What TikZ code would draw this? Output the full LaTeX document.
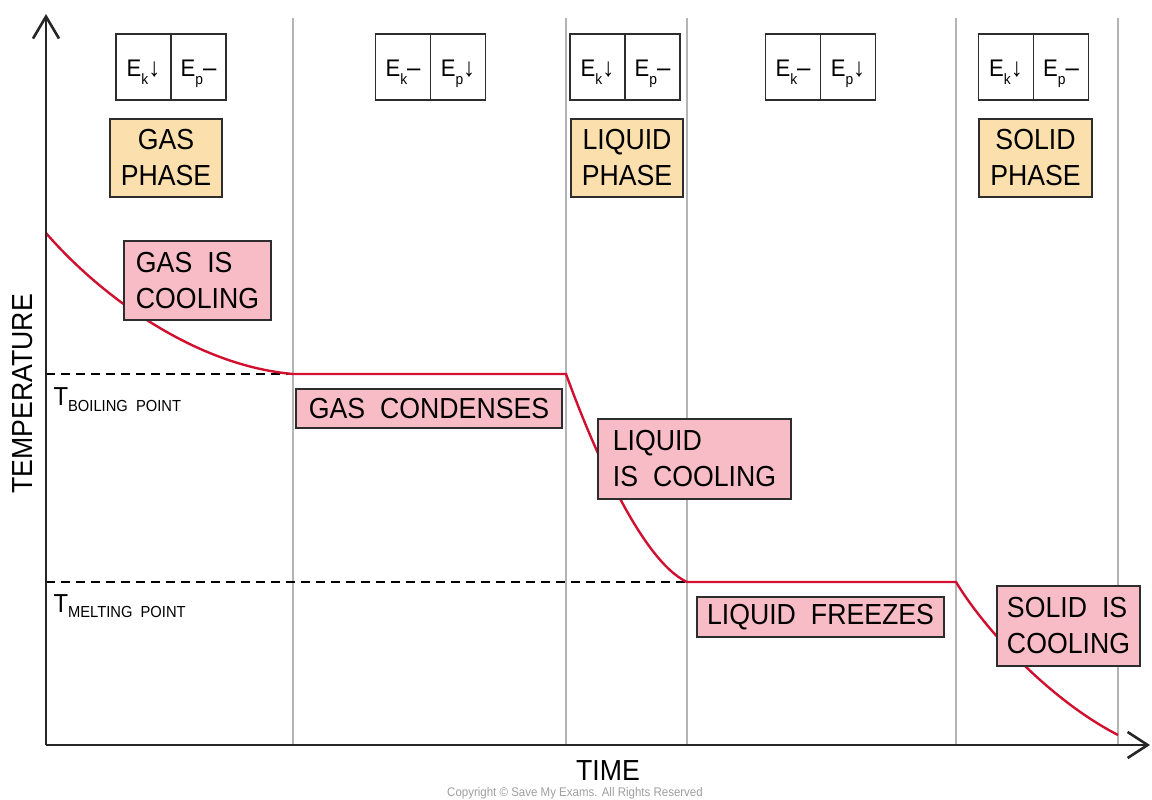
\documentclass[tikz,border=0pt]{standalone}
\usepackage{fontspec}
\setmainfont[FakeStretch=0.92]{Liberation Sans}
\usetikzlibrary{arrows.meta}
\definecolor{pinkfill}{RGB}{248,188,198}
\definecolor{orangefill}{RGB}{251,223,172}
\definecolor{curvered}{RGB}{208,16,46}
\definecolor{gridgray}{RGB}{180,180,180}
\definecolor{boxedge}{RGB}{45,45,45}
\newcommand\gap{\hspace{15pt}}
\newcommand\esub[2]{E\smash{\raisebox{-8pt}{\fontsize{15}{15}\selectfont #1}}{\fontsize{26}{26}\selectfont #2}}
\begin{document}
\begin{tikzpicture}[x=1pt,y=-1pt,
  big/.style={font=\fontsize{29}{36}\selectfont},
  pinkbox/.style={draw=boxedge,line width=1.6pt,fill=pinkfill,inner sep=0pt,big,align=left},
  phasebox/.style={draw=boxedge,line width=1.6pt,fill=orangefill,inner sep=0pt,big,align=center,minimum width=112pt,minimum height=78pt},
  ecell/.style={draw=boxedge,line width=1.5pt,fill=white,minimum width=55pt,minimum height=66pt,inner sep=0pt,text height=20pt,text depth=0pt,font=\fontsize{24}{24}\selectfont},
  gridline/.style={gridgray,line width=1.8pt},
  dashline/.style={black,line width=1.4pt,dash pattern=on 9pt off 6pt},
  curve/.style={curvered,line width=2.4pt},
  axis/.style={black!85,line width=2.6pt},
  sublabel/.style={anchor=base west,font=\fontsize{26}{26}\selectfont}]

\useasboundingbox (0,0) rectangle (1152,800);

% vertical phase separators
\foreach \xx in {293,566,687,956,1118}
  \draw[gridline] (\xx,18) -- (\xx,745);

% key points of the cooling curve
\coordinate (bp0) at (46,374);
\coordinate (mp0) at (46,582);
\coordinate (c0) at (46,233);
\coordinate (c1) at (293,374);
\coordinate (c2) at (566,374);
\coordinate (c3) at (687,582);
\coordinate (c4) at (956,582);
\coordinate (c5) at (1118,735);
\draw[dashline] (bp0) -- (c1);
\draw[dashline] (mp0) -- (c3);

% cooling curve
\draw[curve] (c0) .. controls (95,290) and (190,365) .. (c1) -- (c2)
  .. controls (590,440) and (640,560) .. (c3) -- (c4)
  .. controls (985,630) and (1050,700) .. (c5);

% axes
\coordinate (O) at (46,745);
\coordinate (ytop) at (46,14);
\coordinate (xend) at (1150,745);
\draw[axis,-{Straight Barb[length=22pt,width=26pt]}] (O) -- (ytop);
\draw[axis,-{Straight Barb[length=20pt,width=26pt]}] (O) -- (xend);

% energy boxes
\node[ecell] (e1k) at (143.5,67) {\esub{k}{↓}};
\node[ecell] (e1p) at (198.5,67) {\esub{p}{–}};
\node[ecell] (e2k) at (403,67) {\esub{k}{–}};
\node[ecell] (e2p) at (458,67) {\esub{p}{↓}};
\node[ecell] (e3k) at (597.5,67) {\esub{k}{↓}};
\node[ecell] (e3p) at (652.5,67) {\esub{p}{–}};
\node[ecell] (e4k) at (793,67) {\esub{k}{–}};
\node[ecell] (e4p) at (848,67) {\esub{p}{↓}};
\node[ecell] (e5k) at (1006,67) {\esub{k}{↓}};
\node[ecell] (e5p) at (1061,67) {\esub{p}{–}};

% phase boxes
\node[phasebox] (gph) at (166,158) {GAS\\PHASE};
\node[phasebox] (lph) at (627,158) {LIQUID\\PHASE};
\node[phasebox,minimum width=113pt] (sph) at (1035.5,158) {SOLID\\PHASE};

% process boxes
\node[pinkbox,minimum width=147pt,minimum height=79pt] (gic) at (197.5,280.5) {GAS\gap IS\\COOLING};
\node[pinkbox,minimum width=266pt,minimum height=39pt] (gcd) at (429,408.5) {GAS\gap CONDENSES};
\node[pinkbox,minimum width=193pt,minimum height=80pt] (lic) at (694.5,459) {LIQUID\\IS\gap COOLING};
\node[pinkbox,minimum width=247pt,minimum height=40pt] (lfr) at (820.5,617) {LIQUID\gap FREEZES};
\node[pinkbox,minimum width=143pt,minimum height=80pt] (sic) at (1068.5,626) {SOLID\gap IS\\COOLING};

% axis labels
\node[sublabel] (tbp) at (50,405) {T\raisebox{-6pt}{\fontsize{16}{16}\selectfont BOILING\ \ POINT}};
\node[sublabel] (tmp) at (50,612) {T\raisebox{-5pt}{\fontsize{16}{16}\selectfont MELTING\ \ POINT}};
\node[big,rotate=90] (temp) at (23,394) {TEMPERATURE};
\node[big] (time) at (608,771) {TIME};
\node[font=\fontsize{12.5}{12.5}\selectfont,text=black!38] (copy) at (575,793) {Copyright © Save My Exams. All Rights Reserved};
\end{tikzpicture}
\end{document}
